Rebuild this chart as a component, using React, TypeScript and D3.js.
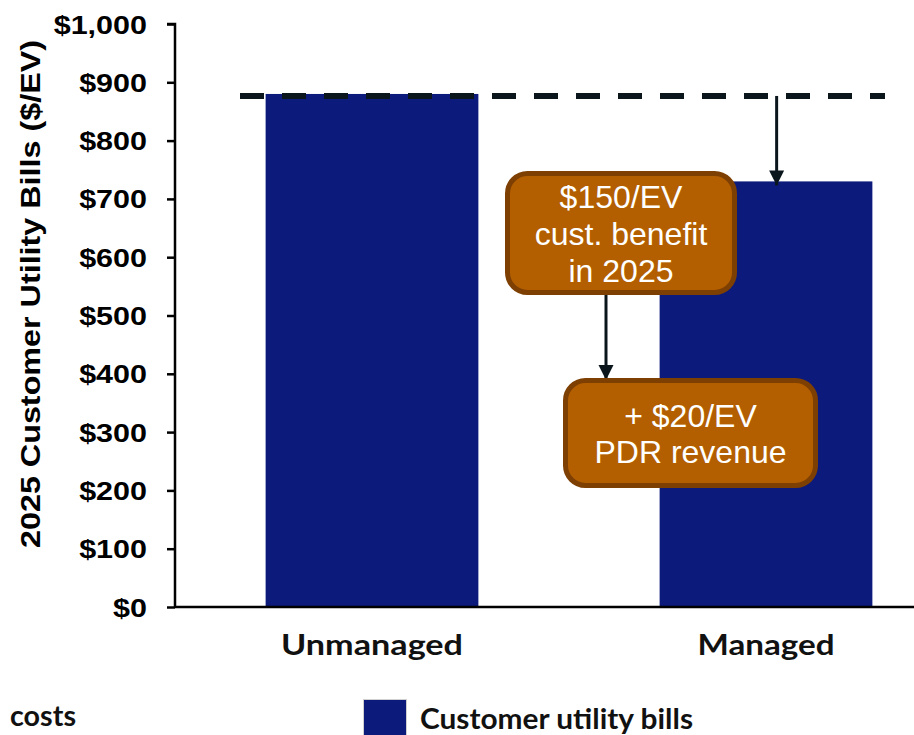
import React, { useEffect, useRef } from 'react';
import { select, scaleLinear, scaleBand, axisLeft, format } from 'd3';

const categories = ['Unmanaged', 'Managed'];
const billValues = [880, 730];
const yTicks = [0, 100, 200, 300, 400, 500, 600, 700, 800, 900, 1000];
const benefitLines = ['$150/EV', 'cust. benefit', 'in 2025'];
const pdrLines = ['+ $20/EV', 'PDR revenue'];
const legendLabel = 'Customer utility bills';
const leftLegendLabel = 'costs';
const yTitle = '2025 Customer Utility Bills ($/EV)';

const width = 914;
const height = 735;
const barColor = '#0c1a7b';
const boxFill = '#b35f00';
const boxStroke = '#7e3f02';

const App: React.FC = () => {
  const svgRef = useRef<SVGSVGElement | null>(null);

  useEffect(() => {
    if (!svgRef.current) return;
    const svg = select(svgRef.current);
    svg.selectAll('*').remove();

    const axisX = 175;
    const yScale = scaleLinear().domain([0, 1000]).range([607, 24]);
    const xScale = scaleBand<string>()
      .domain(categories)
      .range([axisX, axisX + 788])
      .paddingInner(0.46)
      .paddingOuter(0.23);

    const defs = svg.append('defs');
    defs.append('marker')
      .attr('id', 'arrowHead')
      .attr('viewBox', '0 0 10 10')
      .attr('refX', 10)
      .attr('refY', 5)
      .attr('markerWidth', 5)
      .attr('markerHeight', 5.5)
      .attr('markerUnits', 'strokeWidth')
      .attr('orient', 'auto')
      .append('path')
      .attr('d', 'M0,0 L10,5 L0,10 Z')
      .attr('fill', '#0a161c');

    // Bars
    svg.append('g')
      .selectAll('rect')
      .data(categories)
      .enter()
      .append('rect')
      .attr('x', (d: string) => xScale(d) as number)
      .attr('y', (_d: string, i: number) => yScale(billValues[i]))
      .attr('width', xScale.bandwidth())
      .attr('height', (_d: string, i: number) => yScale(0) - yScale(billValues[i]))
      .attr('fill', barColor);

    // Y axis
    const yAxis = axisLeft(yScale)
      .tickValues(yTicks)
      .tickSize(8)
      .tickPadding(0)
      .tickFormat((d) => '$' + format(',')(d as number));
    const gy = svg.append('g')
      .attr('transform', `translate(${axisX},0)`)
      .call(yAxis);
    gy.select('.domain').attr('stroke', '#000').attr('stroke-width', 2.5).attr('d', `M-8,${yScale(1000)}H0V${yScale(0)}`);
    gy.selectAll('.tick line').attr('stroke', '#000').attr('stroke-width', 2.5);
    gy.selectAll('.tick text')
      .attr('x', -23)
      .attr('dy', '0.36em')
      .attr('transform', 'scale(1.22,1)')
      .attr('fill', '#000')
      .style('font-family', '"Liberation Sans", Arial, sans-serif')
      .style('font-weight', 'bold')
      .style('font-size', '25px');

    // X baseline
    svg.append('line')
      .attr('x1', axisX)
      .attr('x2', width)
      .attr('y1', yScale(0))
      .attr('y2', yScale(0))
      .attr('stroke', '#000')
      .attr('stroke-width', 2.5);

    // X labels
    svg.append('g')
      .selectAll('text')
      .data(categories)
      .enter()
      .append('text')
      .attr('x', (d: string) => (xScale(d) as number) + xScale.bandwidth() / 2)
      .attr('y', 655)
      .attr('text-anchor', 'middle')
      .attr('textLength', (d: string) => (d === 'Unmanaged' ? 182 : 137))
      .attr('lengthAdjust', 'spacingAndGlyphs')
      .style('font-family', 'Lato, "Open Sans", sans-serif')
      .style('font-weight', 'bold')
      .style('font-size', '29px')
      .attr('fill', '#111')
      .text((d: string) => d);

    // Y title
    svg.append('text')
      .attr('transform', 'translate(40,294) rotate(-90)')
      .attr('text-anchor', 'middle')
      .attr('textLength', 508)
      .attr('lengthAdjust', 'spacingAndGlyphs')
      .style('font-family', '"Liberation Sans", Arial, sans-serif')
      .style('font-weight', 'bold')
      .style('font-size', '28px')
      .attr('fill', '#000')
      .text(yTitle);

    // Reference dashed line at unmanaged level
    const refY = yScale(billValues[0]) + 2;
    svg.append('line')
      .attr('x1', 240)
      .attr('x2', 885)
      .attr('y1', refY)
      .attr('y2', refY)
      .attr('stroke', '#0a161c')
      .attr('stroke-width', 6)
      .attr('stroke-dasharray', '24 18');

    // Arrow down to managed bar
    const mX = (xScale('Managed') as number) + xScale.bandwidth() * 0.55;
    svg.append('line')
      .attr('x1', mX)
      .attr('x2', mX)
      .attr('y1', refY)
      .attr('y2', yScale(billValues[1]) + 4)
      .attr('stroke', '#0a161c')
      .attr('stroke-width', 3)
      .attr('marker-end', 'url(#arrowHead)');

    // Annotation boxes
    const box1 = { x: 505, y: 171, w: 232, h: 124 };
    const box2 = { x: 563, y: 378, w: 255, h: 110 };

    // Arrow between boxes
    svg.append('line')
      .attr('x1', 606)
      .attr('x2', 606)
      .attr('y1', box1.y + box1.h)
      .attr('y2', box2.y + 2)
      .attr('stroke', '#0a161c')
      .attr('stroke-width', 3)
      .attr('marker-end', 'url(#arrowHead)');

    const drawBox = (b: { x: number; y: number; w: number; h: number }, lines: string[], baselines: number[]) => {
      const g = svg.append('g');
      g.append('rect')
        .attr('x', b.x + 2.5)
        .attr('y', b.y + 2.5)
        .attr('width', b.w - 5)
        .attr('height', b.h - 5)
        .attr('rx', 20)
        .attr('fill', boxFill)
        .attr('stroke', boxStroke)
        .attr('stroke-width', 5);
      g.selectAll('text')
        .data(lines)
        .enter()
        .append('text')
        .attr('x', b.x + b.w / 2)
        .attr('y', (_d: string, i: number) => baselines[i])
        .attr('text-anchor', 'middle')
        .attr('fill', '#fff')
        .style('font-family', '"Liberation Sans", Arial, sans-serif')
        .style('font-size', '32px')
        .text((d: string) => d);
    };
    drawBox(box1, benefitLines, [208, 245, 282]);
    drawBox(box2, pdrLines, [427, 463]);

    // Legend
    svg.append('rect')
      .attr('x', 363.5)
      .attr('y', 699.5)
      .attr('width', 43)
      .attr('height', 40)
      .attr('fill', barColor)
      .attr('stroke', '#d0d0d0')
      .attr('stroke-width', 1);
    svg.append('text')
      .attr('x', 420)
      .attr('y', 729)
      .attr('textLength', 273)
      .attr('lengthAdjust', 'spacingAndGlyphs')
      .style('font-family', 'Lato, "Open Sans", sans-serif')
      .style('font-weight', 'bold')
      .style('font-size', '28px')
      .attr('fill', '#111')
      .text(legendLabel);
    svg.append('text')
      .attr('x', 10)
      .attr('y', 726)
      .attr('textLength', 66)
      .attr('lengthAdjust', 'spacingAndGlyphs')
      .style('font-family', 'Lato, "Open Sans", sans-serif')
      .style('font-weight', 'bold')
      .style('font-size', '28px')
      .attr('fill', '#111')
      .text(leftLegendLabel);
  }, []);

  return (
    <svg
      ref={svgRef}
      width={width}
      height={height}
      style={{ position: 'absolute', left: 0, top: 0, background: '#fff' }}
    ></svg>
  );
};

export default App;
